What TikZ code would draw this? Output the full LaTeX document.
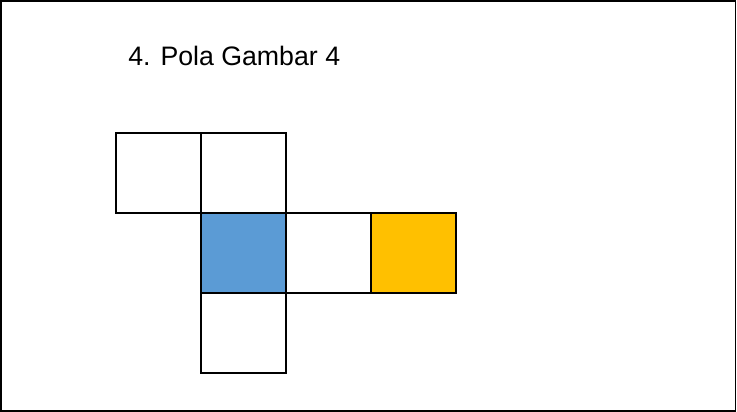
\documentclass[tikz,border=0pt]{standalone}
\usepackage{fontspec}
\setmainfont{Liberation Sans}
\usetikzlibrary{positioning}
\usepackage{xcolor}
\definecolor{faceblue}{HTML}{5B9BD5}
\definecolor{faceyellow}{HTML}{FFC000}

\tikzset{
  face/.style={draw=black,line width=1.2pt,minimum width=1.7cm,minimum height=1.6cm,inner sep=0pt,outer sep=0pt,fill=white}
}

\begin{document}
\begin{tikzpicture}[x=0.02cm,y=-0.02cm]

\useasboundingbox (0,0) rectangle (737,412);
\fill[white] (0,0) rectangle (737,412);
\draw[line width=0.8pt] (0.8,0.8) rectangle (735.6,410.8);

\node[anchor=base west,inner sep=0pt,font=\fontsize{15.2}{18}\selectfont] (title) at (128,66) {4. Pola Gambar 4};

% net of the cube
\node[face] (topleft) at (158.5,173) {};
\node[face,right=0pt of topleft] (topright) {};
\node[face,fill=faceblue,below=0pt of topright] (blue) {};
\node[face,right=0pt of blue] (middle) {};
\node[face,fill=faceyellow,right=0pt of middle] (yellow) {};
\node[face,below=0pt of blue] (bottom) {};

\end{tikzpicture}
\end{document}
